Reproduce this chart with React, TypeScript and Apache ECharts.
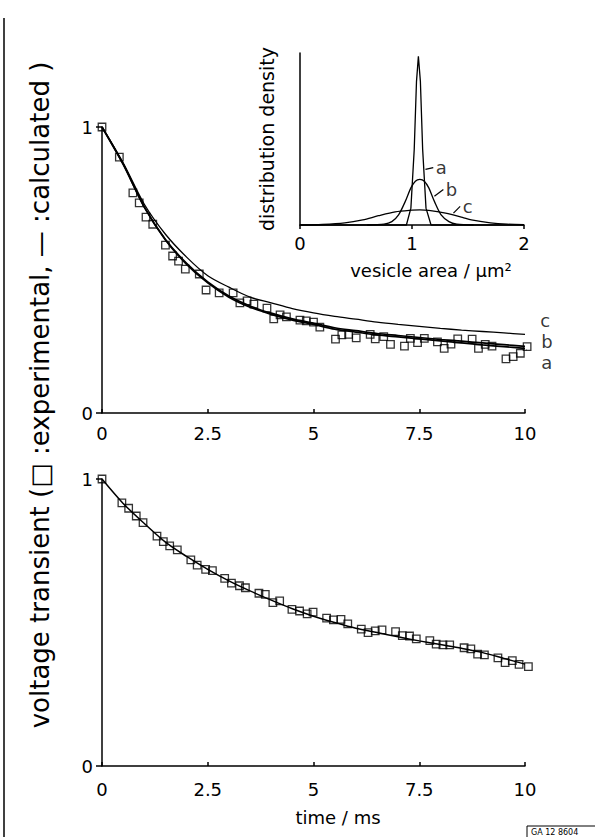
import React, { useEffect, useRef } from "react";
import * as echarts from "echarts";

const FONT = '"DejaVu Sans", "Noto Sans", sans-serif';

// ---------- top panel: experimental points ----------
const topExpT = [0, 0.41, 0.73, 0.88, 1.04, 1.2, 1.5, 1.67, 1.81, 1.97, 2.3, 2.46, 2.77, 3.1, 3.26, 3.43, 3.59, 3.9, 4.06, 4.21, 4.36, 4.68, 4.83, 5.0, 5.15, 5.52, 5.67, 5.83, 6.01, 6.34, 6.46, 6.66, 6.82, 7.15, 7.29, 7.46, 7.62, 7.93, 8.09, 8.25, 8.41, 8.75, 8.9, 9.06, 9.22, 9.55, 9.72, 9.89, 10.05];
const topExpV = [1.0, 0.895, 0.77, 0.735, 0.685, 0.66, 0.587, 0.549, 0.531, 0.503, 0.486, 0.43, 0.42, 0.42, 0.385, 0.392, 0.381, 0.367, 0.329, 0.343, 0.336, 0.325, 0.322, 0.318, 0.3, 0.258, 0.273, 0.275, 0.263, 0.275, 0.259, 0.267, 0.24, 0.234, 0.261, 0.246, 0.261, 0.249, 0.226, 0.241, 0.259, 0.258, 0.226, 0.24, 0.234, 0.189, 0.197, 0.209, 0.232];

// ---------- top panel: calculated curves ----------
const curveT = [0, 0.5, 1, 1.5, 2, 2.5, 3, 3.5, 4, 4.5, 5, 5.5, 6, 6.5, 7, 7.5, 8, 8.5, 9, 9.5, 10];
const topCurveA = [1.0, 0.87, 0.72, 0.605, 0.52, 0.455, 0.405, 0.37, 0.345, 0.325, 0.31, 0.293, 0.283, 0.273, 0.266, 0.259, 0.252, 0.245, 0.238, 0.232, 0.226];
const topCurveB = [1.0, 0.87, 0.72, 0.607, 0.523, 0.458, 0.409, 0.374, 0.349, 0.329, 0.314, 0.298, 0.288, 0.278, 0.271, 0.264, 0.257, 0.251, 0.245, 0.239, 0.233];
const topCurveC = [1.0, 0.875, 0.73, 0.625, 0.545, 0.48, 0.44, 0.405, 0.385, 0.365, 0.35, 0.338, 0.328, 0.318, 0.31, 0.303, 0.296, 0.29, 0.285, 0.28, 0.275];

// ---------- bottom panel ----------
const botExpT = [0, 0.47, 0.63, 0.81, 0.97, 1.3, 1.45, 1.6, 1.78, 2.1, 2.25, 2.45, 2.61, 2.9, 3.06, 3.25, 3.39, 3.71, 3.86, 4.04, 4.2, 4.49, 4.67, 4.85, 4.99, 5.31, 5.47, 5.65, 5.81, 6.13, 6.29, 6.46, 6.62, 6.94, 7.1, 7.27, 7.43, 7.75, 7.9, 8.06, 8.22, 8.56, 8.72, 8.88, 9.04, 9.36, 9.53, 9.7, 9.86, 10.08];
const botExpV = [1.0, 0.917, 0.898, 0.871, 0.848, 0.801, 0.782, 0.767, 0.753, 0.718, 0.7, 0.685, 0.681, 0.654, 0.637, 0.628, 0.621, 0.602, 0.598, 0.569, 0.575, 0.546, 0.54, 0.53, 0.536, 0.515, 0.509, 0.511, 0.495, 0.477, 0.465, 0.471, 0.474, 0.468, 0.454, 0.453, 0.443, 0.437, 0.425, 0.422, 0.422, 0.412, 0.408, 0.39, 0.387, 0.377, 0.36, 0.367, 0.354, 0.346];
const botCurveV = [1.0, 0.915, 0.845, 0.78, 0.73, 0.685, 0.645, 0.61, 0.578, 0.548, 0.522, 0.5, 0.48, 0.465, 0.45, 0.436, 0.423, 0.41, 0.395, 0.375, 0.355];

// ---------- inset: vesicle area distributions ----------
const insetAX = [0, 0.95, 0.99, 1.02, 1.04, 1.057, 1.075, 1.095, 1.125, 1.17, 2];
const insetAY = [0, 0, 0.1, 0.45, 0.85, 1.0, 0.85, 0.45, 0.1, 0, 0];
const insetBX = [0.6, 0.75, 0.82, 0.88, 0.94, 0.99, 1.03, 1.07, 1.11, 1.15, 1.2, 1.26, 1.33, 1.4, 1.55];
const insetBY = [0, 0.005, 0.02, 0.06, 0.14, 0.22, 0.26, 0.27, 0.26, 0.22, 0.14, 0.06, 0.02, 0.005, 0];
const insetCX = [0, 0.2, 0.4, 0.56, 0.7, 0.85, 1.0, 1.07, 1.15, 1.3, 1.45, 1.53, 1.7, 1.85, 2.0];
const insetCY = [0, 0.003, 0.012, 0.03, 0.055, 0.078, 0.088, 0.09, 0.087, 0.07, 0.045, 0.03, 0.013, 0.005, 0.002];

// curve labels: names and leader lines (data coords)
const curveNames = ["a", "b", "c"];
const topLeaders = [
  [[10.04, 0.222], [10.3, 0.176]],
  [[10.08, 0.236], [10.3, 0.25]],
  [[10.06, 0.28], [10.28, 0.322]],
];
const insetLeaders = [
  [[1.12, 0.33], [1.19, 0.34]],
  [[1.2, 0.17], [1.28, 0.21]],
  [[1.37, 0.07], [1.43, 0.11]],
];

const zip = (xs: number[], ys: number[]) => xs.map((x, i) => [x, ys[i]]);

const axisLine = { lineStyle: { color: "#000", width: 1.5 } };
const labelStyle = { color: "#000", fontFamily: FONT, fontSize: 17 };

function lineSeries(data: number[][], xi: number, width: number, smooth: boolean | number = 0.3) {
  return {
    type: "line",
    xAxisIndex: xi,
    yAxisIndex: xi,
    data,
    smooth,
    showSymbol: false,
    symbol: "none",
    clip: false,
    lineStyle: { color: "#000", width },
    silent: true,
  };
}

function expSeries(data: number[][], xi: number) {
  return {
    type: "scatter",
    xAxisIndex: xi,
    yAxisIndex: xi,
    data,
    symbol: "rect",
    symbolSize: 7.5,
    clip: false,
    itemStyle: { color: "rgba(0,0,0,0)", borderColor: "#000", borderWidth: 1.3 },
    silent: true,
    z: 5,
  };
}

function labelSeries(points: number[][], names: string[], xi: number, dx: number, size: number) {
  return {
    type: "scatter",
    xAxisIndex: xi,
    yAxisIndex: xi,
    symbolSize: 1,
    clip: false,
    itemStyle: { color: "rgba(0,0,0,0)" },
    data: points.map((p, i) => ({ value: p, name: names[i] })),
    label: {
      show: true,
      position: "right",
      distance: dx,
      formatter: (p: any) => p.name,
      color: "#000",
      textBorderWidth: 0,
      fontFamily: FONT,
      fontSize: size,
    },
    silent: true,
  };
}

export default function App() {
  const ref = useRef<HTMLDivElement>(null);
  useEffect(() => {
    if (!ref.current) return;
    const chart = echarts.init(ref.current, null, { renderer: "svg" });
    const timeAxis = (margin: number) => ({
      type: "value",
      min: 0,
      max: 10,
      interval: 2.5,
      axisLine,
      axisTick: { show: true, inside: true, length: 4, lineStyle: { color: "#000", width: 1.5 } },
      axisLabel: { ...labelStyle, fontSize: 18, margin },
      splitLine: { show: false },
    });
    const voltAxis = {
      type: "value",
      min: 0,
      max: 1,
      interval: 1,
      axisLine: { show: true, ...axisLine },
      axisTick: { show: true, length: 6, lineStyle: { color: "#000", width: 1.5 } },
      axisLabel: { ...labelStyle, fontSize: 18, margin: 9 },
      splitLine: { show: false },
    };
    const series: any[] = [
      lineSeries(zip(curveT, topCurveC), 0, 1.3),
      lineSeries(zip(curveT, topCurveB), 0, 1.7),
      lineSeries(zip(curveT, topCurveA), 0, 1.7),
      expSeries(zip(topExpT, topExpV), 0),
      ...topLeaders.map((l) => lineSeries(l, 0, 1.2, false)),
      labelSeries(topLeaders.map((l) => l[1]), curveNames, 0, 3, 18),
      lineSeries(zip(curveT, botCurveV), 1, 1.5),
      expSeries(zip(botExpT, botExpV), 1),
      lineSeries(zip(insetAX, insetAY), 2, 1.3, false),
      lineSeries(zip(insetBX, insetBY), 2, 1.3, 0.3),
      lineSeries(zip(insetCX, insetCY), 2, 1.3, 0.3),
      ...insetLeaders.map((l) => lineSeries(l, 2, 1.2, false)),
      labelSeries(insetLeaders.map((l) => l[1]), curveNames, 2, 2, 18),
    ];
    chart.setOption({
      animation: false,
      backgroundColor: "#fff",
      grid: [
        { left: 102, top: 127, width: 423, height: 286 },
        { left: 102, top: 479, width: 423, height: 287 },
        { left: 300, top: 53, width: 224, height: 172 },
      ],
      xAxis: [
        { gridIndex: 0, ...timeAxis(11) },
        { gridIndex: 1, ...timeAxis(14) },
        {
          gridIndex: 2,
          type: "value",
          min: 0,
          max: 2,
          interval: 1,
          axisLine,
          axisTick: { show: true, length: 4, lineStyle: { color: "#000", width: 1.5 } },
          axisLabel: { ...labelStyle, fontSize: 18, margin: 9 },
          splitLine: { show: false },
        },
      ],
      yAxis: [
        { gridIndex: 0, ...voltAxis },
        { gridIndex: 1, ...voltAxis },
        {
          gridIndex: 2,
          type: "value",
          min: 0,
          max: 1.02,
          axisLine: { show: true, ...axisLine },
          axisTick: { show: false },
          axisLabel: { show: false },
          splitLine: { show: false },
        },
      ],
      graphic: [
        { type: "line", shape: { x1: 4, y1: 18, x2: 4, y2: 837 }, style: { stroke: "#000", lineWidth: 1.5 } },
        {
          type: "text",
          x: 40,
          y: 395,
          rotation: Math.PI / 2,
          style: {
            text: "voltage transient (\u25A1 :experimental, \u2014 :calculated )",
            font: `26px ${FONT}`,
            fill: "#000",
            textAlign: "center",
            textVerticalAlign: "middle",
          },
        },
        {
          type: "text",
          x: 267,
          y: 139,
          rotation: Math.PI / 2,
          style: { text: "distribution density", font: `19px ${FONT}`, fill: "#000", textAlign: "center", textVerticalAlign: "middle" },
        },
        {
          type: "text",
          x: 431,
          y: 270,
          style: { text: "vesicle area / \u00B5m\u00B2", font: `18px ${FONT}`, fill: "#000", textAlign: "center", textVerticalAlign: "middle" },
        },
        {
          type: "text",
          x: 338,
          y: 817,
          style: { text: "time / ms", font: `18px ${FONT}`, fill: "#000", textAlign: "center", textVerticalAlign: "middle" },
        },
        { type: "rect", shape: { x: 527, y: 826, width: 70, height: 12 }, style: { fill: "#fff", stroke: "#000", lineWidth: 1 } },
        {
          type: "text",
          x: 531,
          y: 832,
          style: { text: "GA 12 8604", font: `8px ${FONT}`, fill: "#000", textVerticalAlign: "middle" },
        },
      ],
      series,
    });
    return () => chart.dispose();
  }, []);
  return <div ref={ref} style={{ position: "fixed", left: 0, top: 0, width: 595, height: 837, background: "#fff" }} />;
}
